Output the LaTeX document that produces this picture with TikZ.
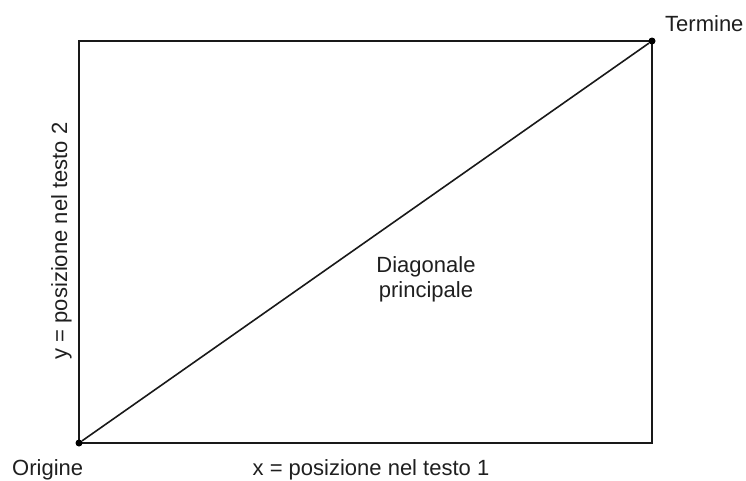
\documentclass[tikz,border=0pt]{standalone}
\usepackage{fontspec}
\setmainfont{Liberation Sans}
\begin{document}
\begin{tikzpicture}[x=1pt,y=-1pt,
  lbl/.style={inner sep=0pt,font=\fontsize{22}{24.5}\selectfont,text=black!88},
  frame/.style={line width=1.6pt,black!90},
  endpt/.style={circle,fill=black,inner sep=0pt,minimum size=7pt}]
\useasboundingbox (0,0) rectangle (746,480);
\coordinate (bl) at (79,443);
\coordinate (tr) at (652,41);
\draw[frame] (bl) rectangle (tr);
\node[endpt] (o) at (bl) {};
\node[endpt] (t) at (tr) {};
\draw[frame] (o) -- (t);
\node[lbl,anchor=base west] (tl) at (665,31) {Termine};
\node[lbl,anchor=base west] (ol) at (12,475) {Origine};
\node[lbl,anchor=base] (xl) at (371,475) {x = posizione nel testo 1};
\node[lbl,anchor=base,rotate=90] (yl) at (67,241) {y = posizione nel testo 2};
\node[lbl,align=center,anchor=base] (dl) at (426,297) {Diagonale\\principale};
\end{tikzpicture}
\end{document}
